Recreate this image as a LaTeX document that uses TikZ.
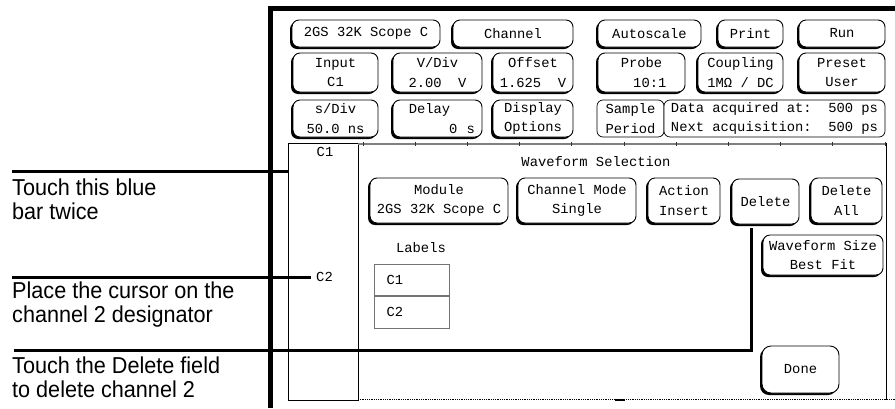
\documentclass[tikz,border=0pt]{standalone}
\usepackage{fontspec}
\setmainfont{Liberation Sans}[FakeStretch=0.94]
\newfontfamily\monofam{Liberation Mono}
\newcommand{\screenfont}{\monofam\fontsize{13.8}{19.5}\selectfont}
\newcommand{\notefont}{\fontsize{23}{24}\selectfont}
\usetikzlibrary{positioning,calc,shadows}
\tikzset{
    key/.style =    {rectangle,
                    rounded corners=7pt,
                    fill=white,
                    draw=black,
                    text=black,
                    line width=0.9pt,
                    inner sep=0pt,
                    align=center,
                    font=\screenfont,
                    drop shadow={shadow xshift=-2pt,shadow yshift=-2pt,fill=black,opacity=1}},
    flatkey/.style ={rectangle,
                    rounded corners=6pt,
                    fill=white,
                    draw=black,
                    line width=0.7pt,
                    inner sep=0pt,
                    align=center,
                    font=\screenfont},
    rowa/.style =   {minimum height=27},
    rowb/.style =   {minimum height=39},
    rowc/.style =   {minimum height=37},
    rowd/.style =   {minimum height=45},
    scrtext/.style ={inner sep=0pt,
                    font=\screenfont},
    cell/.style =   {rectangle,
                    draw=black!55,
                    line width=0.8pt,
                    minimum width=75,
                    minimum height=31.5,
                    text width=50,
                    inner xsep=12.5,
                    inner ysep=0pt,
                    align=left,
                    font=\screenfont},
    note/.style =   {inner sep=0pt,
                    align=left,
                    font=\notefont},
    callout/.style ={line width=3pt},
    frame/.style =  {line width=4.4pt}}

\begin{document}
\begin{tikzpicture}[x=1pt,y=-1pt]
    \useasboundingbox (0,0) rectangle (895,408);

    % screen frame
    \draw[frame] (270.5,408) -- (270.5,8.3) -- (895,8.3);

    % lower panels
    \node[draw, line width=0.8pt, minimum width=70, minimum height=257, inner sep=0pt] (cbar) at (323,271.5) {};
    \draw[black!50, line width=2pt] (358,143.5) -- (886,143.5);
    \foreach \k in {0,...,10}
        \draw[black!80, line width=1pt] ({363+52.2*\k},141.5) -- ++(0,4);
    \draw[line width=1pt] (886,143) -- (886,399.5);
    \draw[line width=0.8pt, densely dotted] (358,399.5) -- (895,399.5);
    \draw[line width=2pt] (615,399.5) -- (625,399.5);

    % top softkeys
    \node[key, rowa] (scope)    [minimum width=148] at (366,33.5)   {2GS 32K Scope C};
    \node[key, rowa] (chan)     [minimum width=120] at (513,33.5)   {Channel};
    \node[key, rowa] (autosc)   [minimum width=103] at (649.5,33.5) {Autoscale};
    \node[key, rowa] (print)    [minimum width=65]  at (750.5,33.5) {Print};
    \node[key, rowa] (run)      [minimum width=86]  at (842,33.5)   {Run};

    \node[key, rowb] (input)    [minimum width=85]  at (335.5,72.5) {Input\\C1};
    \node[key, rowb] (vdiv)     [minimum width=89]  at (437.5,72.5) {V/Div\\2.00~~V};
    \node[key, rowb] (offset)   [minimum width=80]  at (533,72.5)   {Offset\\1.625~~V};
    \node[key, rowb] (probe)    [minimum width=87]  at (641.5,72.5) {Probe\\~~10:1};
    \node[key, rowb] (coupling) [minimum width=85]  at (740.5,72.5) {Coupling\\1MΩ~/~DC};
    \node[key, rowb] (preset)   [minimum width=86]  at (842,72.5)   {Preset\\User};

    \node[key, rowc] (sdiv)     [minimum width=85]  at (335.5,118.5) {s/Div\\50.0~ns};
    \node[key, rowc] (delay)    [minimum width=89, text width=75, align=right] at (437.5,118.5) {Delay\phantom{000}\\0~~s};
    \node[key, rowc] (disp)     [minimum width=80]  at (533,118.5)  {Display\\Options};
    \node[flatkey, rowc] (sample) [minimum width=67]  at (630.5,118.5) {Sample\\Period};
    \node[flatkey, rowc] (data)   [minimum width=221] at (774.5,118.5) {Data acquired at:~~500 ps\\Next acquisition:~~500 ps};

    % waveform selection
    \node[scrtext] (c1lbl) at (325,152) {C1};
    \node[scrtext] (c2lbl) at (324.5,277) {C2};
    \node[scrtext] (title) at (596,162) {Waveform Selection};

    \node[key, rowd] (module)   [minimum width=138] at (439,200.5)  {Module\\2GS 32K Scope C};
    \node[key, rowd] (cmode)    [minimum width=118] at (577,200.5)  {Channel Mode\\Single};
    \node[key, rowd] (action)   [minimum width=72]  at (684,200.5)  {Action\\Insert};
    \node[key, rowd] (del)      [minimum width=67]  at (765.5,201.5) {Delete};
    \node[key, rowd] (delall)   [minimum width=71]  at (846.5,200.5) {Delete\\All};
    \node[key] (wsize)          [minimum width=120, minimum height=40] at (823,255) {Waveform Size\\Best Fit};
    \node[key] (done)           [minimum width=77, minimum height=47, rounded corners=9pt] at (800.5,369.5) {Done};

    \node[scrtext] (labels) at (421,248) {Labels};
    \node[cell] (lbla) at (411.5,280) {C1};
    \node[cell] (lblb) [below=0pt of lbla] {C2};

    % callouts
    \coordinate (tip1) at (12,171.5);
    \coordinate (tip2) at (12,277);
    \coordinate (tip3) at (14,350);
    \node[note] (note1) [below right=7.5pt and 0pt of tip1] {Touch this blue\\bar twice};
    \node[note] (note2) [below right=5pt and 0pt of tip2] {Place the cursor on the\\channel 2 designator};
    \node[note] (note3) [below right=6.5pt and -2pt of tip3] {Touch the Delete field\\to delete channel 2};

    \draw[callout] (tip1) -- (tip1 -| cbar.west);
    \draw[callout, shorten >=5pt] (tip2) -- (c2lbl.west);
    \draw[callout, shorten >=4pt] (tip3) -| ($(del.south west)!0.3!(del.south east)$);
\end{tikzpicture}
\end{document}
